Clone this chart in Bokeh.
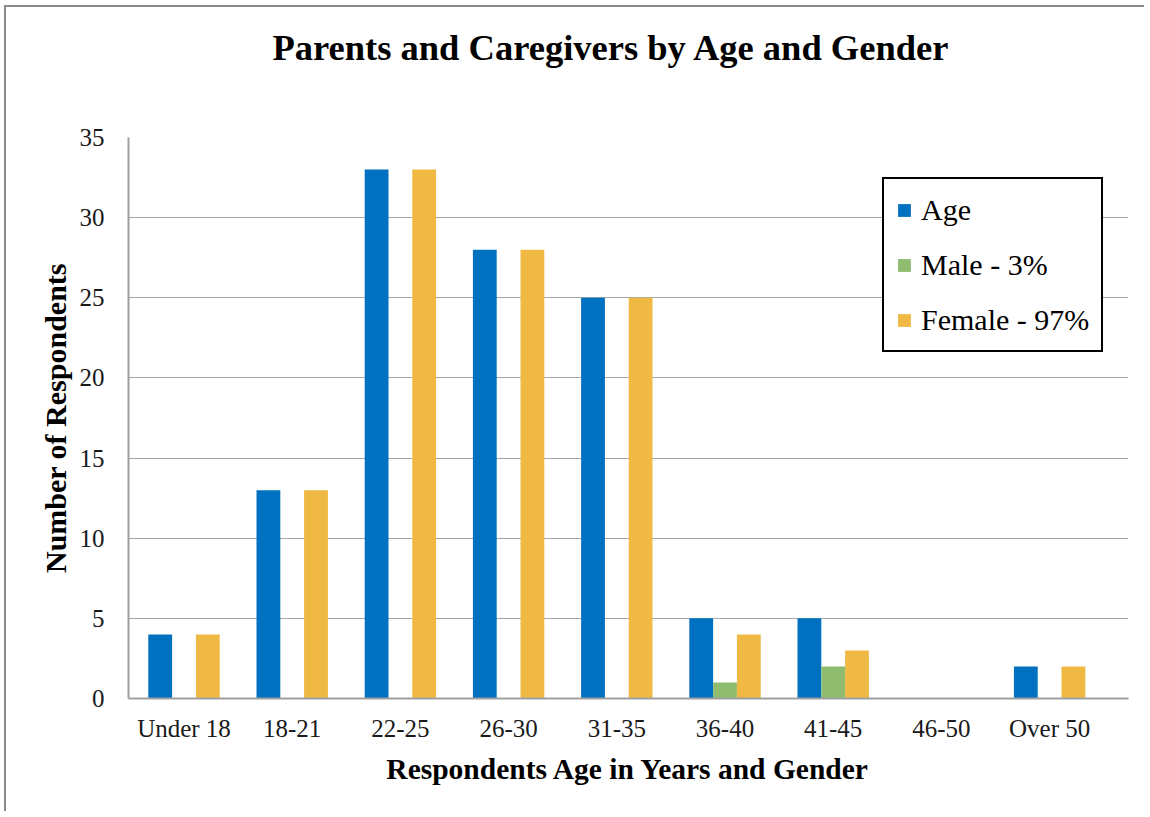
from bokeh.plotting import figure
from bokeh.models import ColumnDataSource, Range1d, FixedTicker, Legend, LegendItem, Title
from bokeh.transform import dodge
from bokeh.embed import file_html
from bokeh.resources import INLINE

categories = ["Under 18", "18-21", "22-25", "26-30", "31-35", "36-40", "41-45", "46-50", "Over 50"]
age = [4, 13, 33, 28, 25, 5, 5, 0, 2]
male = [0, 0, 0, 0, 0, 1, 2, 0, 0]
female = [4, 13, 33, 28, 25, 4, 3, 0, 2]
series_names = ["Age", "Male - 3%", "Female - 97%"]
y_ticks = [0, 5, 10, 15, 20, 25, 30, 35]
title_text = "Parents and Caregivers by Age and Gender"

colors = ["#0070C0", "#8FBC6F", "#EFB944"]
FONT = "Liberation Serif"

src = ColumnDataSource(dict(x=list(range(len(categories))), age=age, male=male, female=female))

p = figure(width=1140, height=806, output_backend="svg", toolbar_location=None,
           x_range=Range1d(-0.513, 8.729), y_range=Range1d(y_ticks[0], y_ticks[-1]),
           min_border_left=122, min_border_right=18, min_border_top=130, min_border_bottom=115,
           title=None)
p.styles = {"border-left": "2px solid #8c8c8c", "border-top": "2px solid #8c8c8c",
            "margin-left": "4px", "margin-top": "5px"}

# spacer between frame and title, then the title itself further out
spacer = Title(text=" ", text_font_size="1px", standoff=67)
main_title = Title(text=title_text, text_font=FONT, text_font_size="36.5px",
                   text_font_style="bold", text_color="black", align="left", offset=144,
                   vertical_align="bottom", standoff=0)
p.add_layout(spacer, "above")
p.add_layout(main_title, "above")

w = 0.22
r1 = p.vbar(x=dodge("x", -w, range=p.x_range), top="age", width=w, source=src,
            fill_color=colors[0], line_color=None)
r2 = p.vbar(x=dodge("x", 0, range=p.x_range), top="male", width=w, source=src,
            fill_color=colors[1], line_color=None)
r3 = p.vbar(x=dodge("x", w, range=p.x_range), top="female", width=w, source=src,
            fill_color=colors[2], line_color=None)

p.outline_line_color = None
p.xgrid.grid_line_color = None
p.ygrid.grid_line_color = "#a6a6a6"
p.ygrid.grid_line_width = 1

p.xaxis.ticker = FixedTicker(ticks=list(range(len(categories))))
p.xaxis.major_label_overrides = {i: c for i, c in enumerate(categories)}
p.yaxis.ticker = FixedTicker(ticks=y_ticks)

for ax in (p.xaxis, p.yaxis):
    ax.axis_line_color = "#a0a0a0"
    ax.axis_line_width = 2
    ax.major_tick_line_color = None
    ax.minor_tick_line_color = None
    ax.major_tick_out = 0
    ax.major_tick_in = 0
    ax.major_label_text_font = FONT
    ax.major_label_text_font_size = "25px"
    ax.major_label_text_color = "#1a1a1a"
    ax.axis_label_text_font = FONT
    ax.axis_label_text_font_size = "30px"
    ax.axis_label_text_font_style = "bold"
    ax.axis_label_text_color = "black"

p.xaxis.axis_label = "Respondents Age in Years and Gender"
p.yaxis.axis_label = "Number of Respondents"
p.xaxis.axis_label_text_font_size = "29.5px"
p.xaxis.major_label_standoff = 16
p.xaxis.axis_label_standoff = 8
p.yaxis.major_label_standoff = 24
p.yaxis.axis_label_standoff = 5

legend = Legend(items=[LegendItem(label=series_names[0], renderers=[r1]),
                       LegendItem(label=series_names[1], renderers=[r2]),
                       LegendItem(label=series_names[2], renderers=[r3])],
                location=(754, 346))
legend.label_text_font = FONT
legend.label_text_font_size = "30px"
legend.label_text_color = "black"
legend.glyph_width = 16
legend.glyph_height = 16
legend.label_height = 37
legend.label_standoff = 9
legend.spacing = 18
legend.padding = 12
legend.margin = 0
legend.border_line_color = "black"
legend.border_line_width = 2
legend.border_line_alpha = 1
legend.background_fill_color = "white"
legend.background_fill_alpha = 1
p.add_layout(legend, "center")

open("out.html", "w").write(file_html(p, INLINE))
